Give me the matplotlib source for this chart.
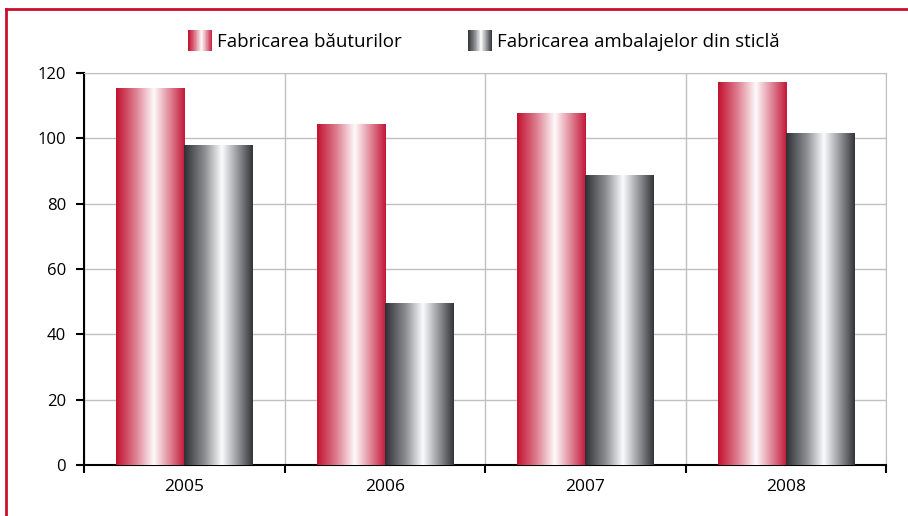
import numpy as np
import matplotlib
matplotlib.use("Agg")
import matplotlib.pyplot as plt
from matplotlib.colors import LinearSegmentedColormap
from matplotlib.legend_handler import HandlerBase
from matplotlib.patches import Rectangle
from matplotlib.lines import Line2D

plt.rcParams['font.family'] = ['Open Sans', 'DejaVu Sans']

# data
years = ["2005", "2006", "2007", "2008"]
bauturi = [115.5, 104.5, 107.8, 117.2]
sticla = [98.0, 49.6, 88.8, 101.6]
series_names = ["Fabricarea băuturilor", "Fabricarea ambalajelor din sticlă"]

red_cmap = LinearSegmentedColormap.from_list(
    "redgrad", [(0.0, "#c2112f"), (0.28, "#dd7d8f"), (0.55, "#fefafb"),
                (0.8, "#dd7d8f"), (1.0, "#c4173a")])
gray_cmap = LinearSegmentedColormap.from_list(
    "graygrad", [(0.0, "#2f3033"), (0.3, "#8c8e92"), (0.55, "#fbfcfd"),
                 (0.8, "#8c8e92"), (1.0, "#343538")])


class GradientHandler(HandlerBase):
    def __init__(self, cmap):
        super().__init__()
        self.cmap = cmap

    def create_artists(self, legend, orig_handle, xdescent, ydescent,
                       width, height, fontsize, trans):
        n = 40
        w = width / n
        arts = []
        for k in range(n):
            r = Rectangle((-xdescent + k * w, -ydescent - height * 0.3), w * 1.05,
                          height * 1.6, facecolor=self.cmap((k + 0.5) / n),
                          edgecolor='none', transform=trans)
            arts.append(r)
        return arts


fig = plt.figure(figsize=(9.08, 5.16), dpi=100)
ax = fig.add_axes([84 / 908, 1 - 465 / 516, (886 - 84) / 908, (465 - 73) / 516])

x = np.arange(len(years))
bw = 0.34
grad = np.linspace(0, 1, 256).reshape(1, -1)

for vals, off, cmap in [(bauturi, -bw / 2, red_cmap), (sticla, bw / 2, gray_cmap)]:
    bars = ax.bar(x + off, vals, width=bw, facecolor='none', edgecolor='none', zorder=3)
    for b in bars:
        x0, y0 = b.get_x(), b.get_y()
        im = ax.imshow(grad, extent=[x0, x0 + b.get_width(), y0, y0 + b.get_height()],
                       aspect='auto', cmap=cmap, interpolation='bilinear', zorder=3)
        im.set_clip_path(b)

ax.set_xlim(-0.5, len(years) - 0.5)
ax.set_ylim(0, 120)
ax.set_yticks(range(0, 121, 20))
ax.set_xticks(x)
ax.set_xticklabels(years)
ax.set_xticks(np.arange(-0.5, len(years), 1.0), minor=True)
ax.tick_params(axis='x', which='major', length=0, pad=10, labelsize=12.5)
ax.tick_params(axis='x', which='minor', length=6, width=1.5, direction='out')
ax.tick_params(axis='y', length=6, width=1.5, direction='out', pad=7, labelsize=12)
ax.grid(axis='y', color='#c0c0c0', linewidth=1, zorder=0)
ax.grid(axis='x', which='minor', color='#c0c0c0', linewidth=1, zorder=0)
ax.set_axisbelow(True)
for s in ['top', 'right']:
    ax.spines[s].set_color('#c0c0c0')
for s in ['left', 'bottom']:
    ax.spines[s].set_linewidth(1.5)
    ax.spines[s].set_color('black')

h1 = Rectangle((0, 0), 1, 1)
h2 = Rectangle((0, 0), 1, 1)
fig.legend([h1, h2], series_names, loc='center', bbox_to_anchor=(0.533, 0.919),
           ncol=2, frameon=False, fontsize=13.5, handlelength=1.28, handletextpad=0.27,
           columnspacing=3.5,
           handler_map={h1: GradientHandler(red_cmap), h2: GradientHandler(gray_cmap)})

# red frame on left and top
fig.add_artist(Line2D([6 / 908, 6 / 908], [0, 1 - 9 / 516], transform=fig.transFigure,
                      color='#c8102e', linewidth=2))
fig.add_artist(Line2D([6 / 908, 1], [1 - 9 / 516, 1 - 9 / 516], transform=fig.transFigure,
                      color='#c8102e', linewidth=2))

fig.savefig("out.png", dpi=100)
